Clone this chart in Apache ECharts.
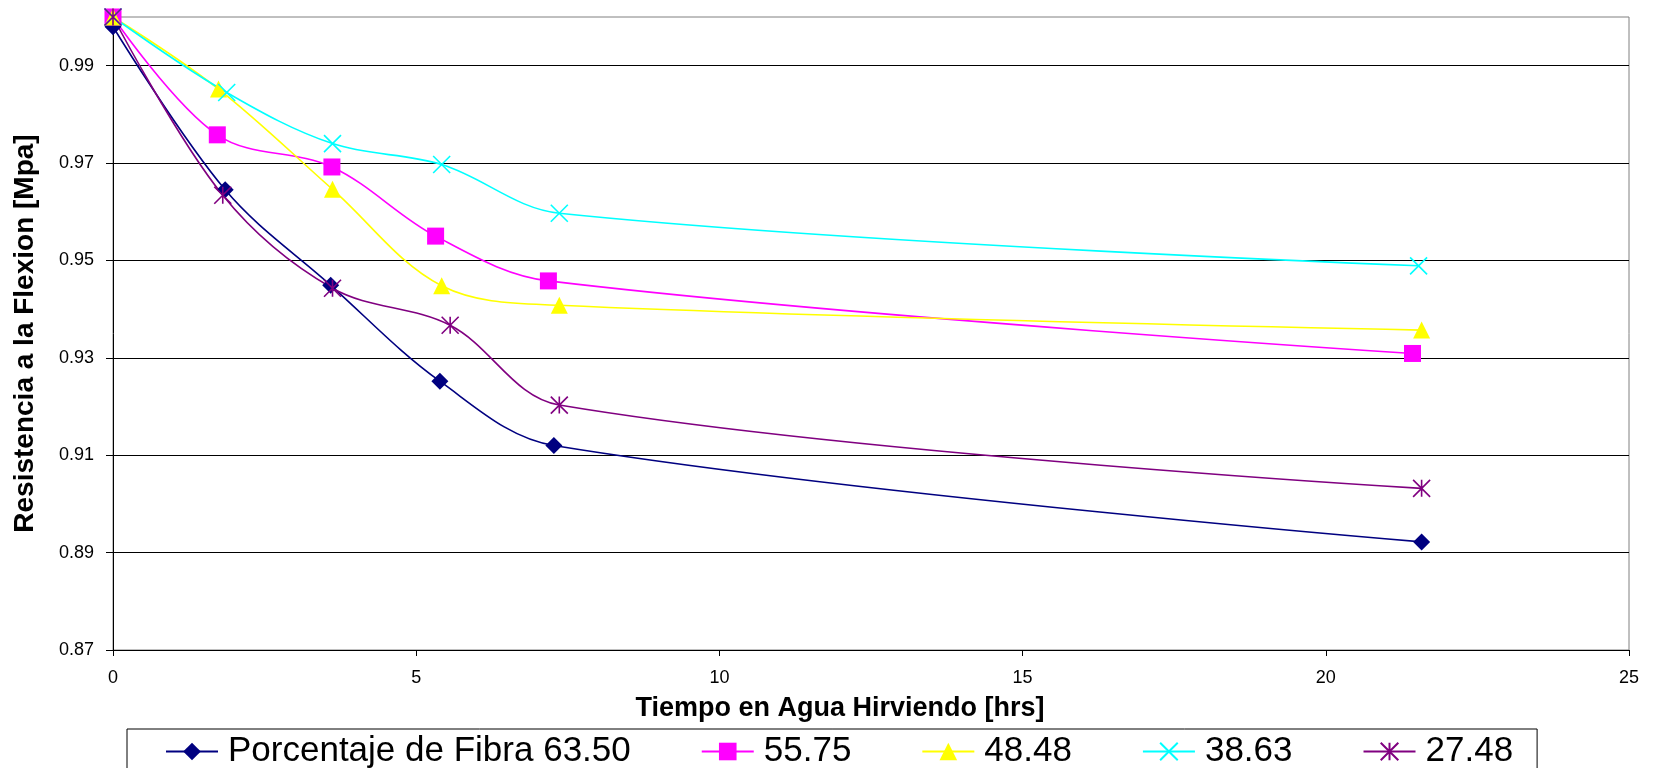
<!DOCTYPE html>
<html>
<head>
<meta charset="utf-8">
<script src="https://cdn.jsdelivr.net/npm/echarts@6/dist/echarts.min.js"></script>
<style>
  html, body { margin: 0; padding: 0; background: #ffffff; }
  #chart { width: 1655px; height: 768px; }
</style>
</head>
<body>
<div id="chart"></div>
<script>
// Hours in boiling water and flexural strength for each fibre percentage
const seriesNames = ['Porcentaje de Fibra 63.50', '55.75', '48.48', '38.63', '27.48'];

const horas6350 = [0, 1.85, 3.59, 5.39, 7.27, 21.58];
const resist6350 = [0.998, 0.9645, 0.9449, 0.9252, 0.912, 0.8922];

const horas5575 = [0, 1.72, 3.61, 5.32, 7.18, 21.43];
const resist5575 = [1.0, 0.9758, 0.9692, 0.955, 0.9458, 0.9309];

const horas4848 = [0, 1.74, 3.62, 5.42, 7.36, 21.58];
const resist4848 = [1.0, 0.9852, 0.9646, 0.9448, 0.9408, 0.9357];

const horas3863 = [0, 1.875, 3.62, 5.42, 7.36, 21.53];
const resist3863 = [1.0, 0.9845, 0.974, 0.9697, 0.9597, 0.9489];

const horas2748 = [0, 1.81, 3.62, 5.56, 7.36, 21.58];
const resist2748 = [1.0, 0.9634, 0.9443, 0.9367, 0.9203, 0.9032];

const yTicks = [0.87, 0.89, 0.91, 0.93, 0.95, 0.97, 0.99];
const xTicks = [0, 5, 10, 15, 20, 25];

const FONT = "'Liberation Sans', Arial, sans-serif";

// Open marker shapes drawn as strokes
const CROSS = 'path://M0 0L10 10M10 0L0 10';
const STAR = 'path://M0 0L10 10M10 0L0 10M5 0L5 10';

function pairs(xs, ys) {
  return xs.map((x, i) => [x, ys[i]]);
}

function makeSeries(name, xs, ys, color, symbol, open) {
  return {
    name: name,
    type: 'line',
    data: pairs(xs, ys),
    smooth: 0.35,
    clip: false,
    symbol: symbol,
    symbolSize: 17,
    lineStyle: { color: color, width: 1.6 },
    itemStyle: open
      ? { color: color, borderColor: color, borderWidth: 1.6 }
      : { color: color, borderColor: color, borderWidth: 0 },
    emphasis: { disabled: true }
  };
}

const chart = echarts.init(document.getElementById('chart'));

chart.setOption({
  animation: false,
  backgroundColor: '#ffffff',
  textStyle: { fontFamily: FONT },
  grid: {
    left: 113, right: 26, top: 17, bottom: 118,
    show: true, borderColor: '#808080', borderWidth: 1, backgroundColor: 'transparent'
  },
  xAxis: {
    type: 'value',
    min: xTicks[0],
    max: xTicks[xTicks.length - 1],
    interval: 5,
    name: 'Tiempo en Agua Hirviendo [hrs]',
    nameLocation: 'middle',
    nameGap: 45,
    nameTextStyle: { fontFamily: FONT, fontSize: 27, fontWeight: 'bold', color: '#000', padding: [0, 62, 0, 0] },
    axisLine: { show: true, onZero: false, lineStyle: { color: '#000', width: 1 } },
    axisTick: { show: true, inside: false, length: 6, lineStyle: { color: '#000', width: 1 } },
    axisLabel: { fontFamily: FONT, fontSize: 18, color: '#000', margin: 19 },
    splitLine: { show: false }
  },
  yAxis: {
    type: 'value',
    min: 0.87,
    max: 1.0,
    interval: 0.01,
    name: 'Resistencia a la Flexion [Mpa]',
    nameLocation: 'middle',
    nameGap: 74,
    nameTextStyle: { fontFamily: FONT, fontSize: 28, fontWeight: 'bold', color: '#000' },
    axisLine: { show: true, onZero: false, lineStyle: { color: '#000', width: 1 } },
    axisTick: { show: true, inside: false, length: 7, customValues: yTicks, lineStyle: { color: '#000', width: 1 } },
    axisLabel: {
      fontFamily: FONT, fontSize: 18, color: '#000', margin: 19,
      customValues: yTicks,
      formatter: v => v.toFixed(2)
    },
    splitLine: { show: true, lineStyle: { color: '#000', width: 1 } }
  },
  legend: {
    left: 127,
    top: 729,
    orient: 'horizontal',
    padding: [5, 24, 14, 38],
    borderColor: '#000',
    borderWidth: 1,
    itemGap: 70,
    itemWidth: 52,
    itemHeight: 22,
    selectedMode: false,
    textStyle: { fontFamily: FONT, fontSize: 35, color: '#000', padding: [0, 0, 0, 5] },
    data: seriesNames
  },
  series: [
    makeSeries(seriesNames[0], horas6350, resist6350, '#000080', 'diamond', false),
    makeSeries(seriesNames[1], horas5575, resist5575, '#FF00FF', 'rect', false),
    makeSeries(seriesNames[2], horas4848, resist4848, '#FFFF00', 'triangle', false),
    makeSeries(seriesNames[3], horas3863, resist3863, '#00FFFF', CROSS, true),
    makeSeries(seriesNames[4], horas2748, resist2748, '#800080', STAR, true)
  ]
});
</script>
</body>
</html>
